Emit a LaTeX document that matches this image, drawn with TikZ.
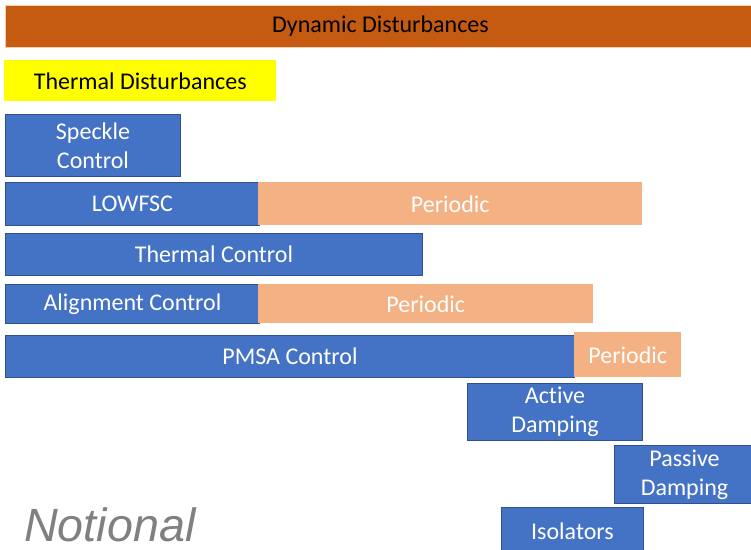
\documentclass[tikz,border=0pt]{standalone}
\usepackage{fontspec}
\setmainfont{Carlito}[Ligatures=NoCommon]
\newfontfamily\notefont{Liberation Sans}
\begin{document}
\begin{tikzpicture}[x=0.75pt,y=0.75pt,yscale=-1,xscale=1,
  bar/.style 2 args={anchor=north west,inner sep=0pt,minimum width=#1*0.75pt,minimum height=#2*0.75pt,align=center,font=\fontsize{18}{22}\selectfont},
  ctrl/.style={draw={rgb, 255:red, 47; green, 82; blue, 143 },fill={rgb, 255:red, 68; green, 114; blue, 196 },text=white,line width=0.75},
  periodic/.style={fill={rgb, 255:red, 244; green, 177; blue, 131 },text=white},
  dynamic/.style={draw={rgb, 255:red, 248; green, 203; blue, 173 },fill={rgb, 255:red, 197; green, 90; blue, 17 },text=black,line width=0.75},
  thermal/.style={fill={rgb, 255:red, 255; green, 255; blue, 0 },text=black}
]
\useasboundingbox (0,0) rectangle (751,550);

%Shape: Rectangle
\node (dyn) [bar={750}{42},dynamic] at (5,5) {Dynamic Disturbances};
%Shape: Rectangle
\node (therm) [bar={272}{41},thermal] at (4,60) {Thermal Disturbances};
%Shape: Rectangle
\node (speckle) [bar={175}{62},ctrl] at (5,114) {Speckle\\Control};
%Shape: Rectangle
\node (lowfsc) [bar={254}{43},ctrl] at (5,182) {LOWFSC};
\node (lowfscper) [bar={384}{43},periodic] at (258,182) {Periodic};
%Shape: Rectangle
\node (thermctl) [bar={417}{42},ctrl] at (5,233) {Thermal Control};
%Shape: Rectangle
\node (align) [bar={254}{39},ctrl] at (5,284) {Alignment Control};
\node (alignper) [bar={335}{39},periodic] at (258,284) {Periodic};
%Shape: Rectangle
\node (pmsa) [bar={569}{42},ctrl] at (5,335) {PMSA Control};
\node (pmsaper) [bar={107}{45},periodic] at (574,332) {Periodic};
%Shape: Rectangle
\node (active) [bar={175}{57},ctrl] at (467,383) {Active\\Damping};
%Shape: Rectangle
\node (passive) [bar={140}{58},ctrl] at (614,445) {Passive\\Damping};
%Shape: Rectangle
\node (iso) [bar={142}{47},ctrl] at (501,507) {Isolators};

% Text Node
\node (note) [anchor=base west,inner sep=0pt,text={rgb, 255:red, 128; green, 128; blue, 128 },font=\notefont\itshape\fontsize{35}{40}\selectfont] at (24,541) {Notional};

\end{tikzpicture}
\end{document}
